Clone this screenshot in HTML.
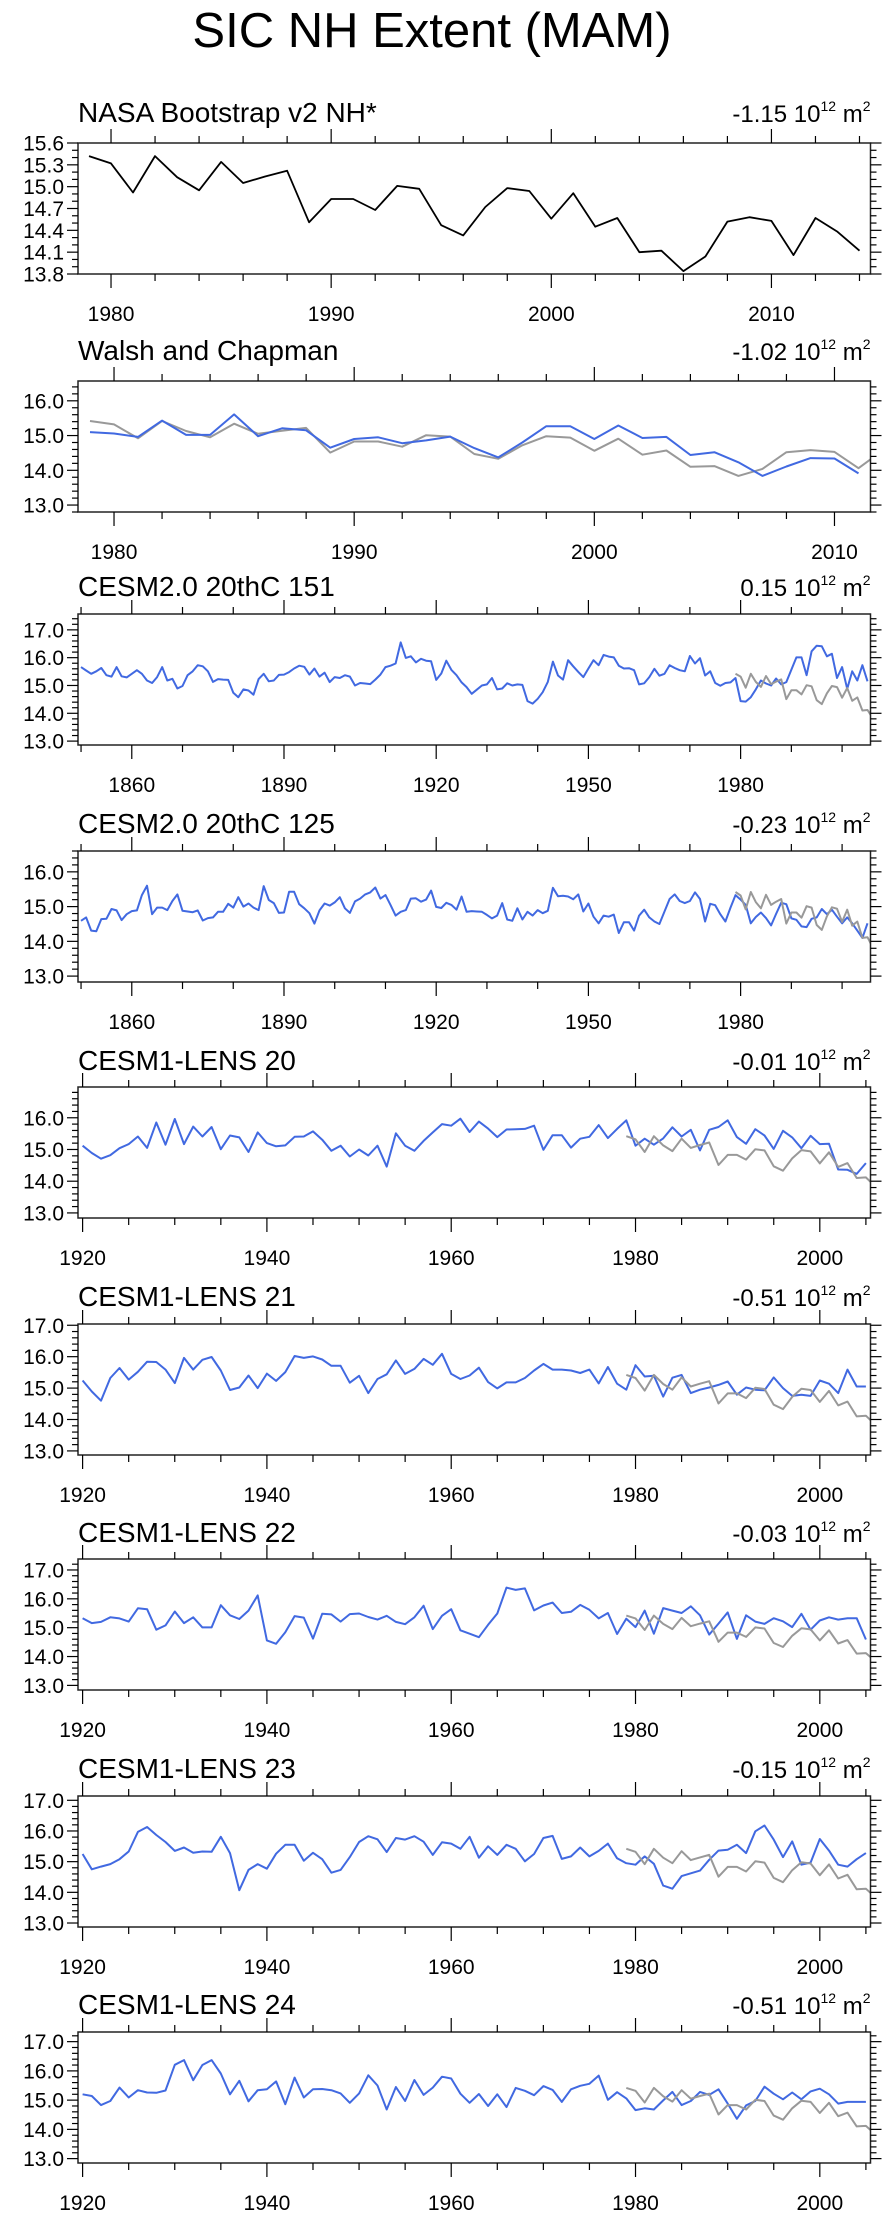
<!DOCTYPE html>
<html><head><meta charset="utf-8">
<style>
html,body{margin:0;padding:0;background:#fff;}
svg{display:block;font-family:"Liberation Sans",Arial,sans-serif;}
</style></head>
<body>
<svg id="fig" width="896" height="2219" viewBox="0 0 896 2219" xmlns="http://www.w3.org/2000/svg">
<rect width="896" height="2219" fill="#fff"/>
<text x="432" y="47" font-size="49" text-anchor="middle" fill="#000">SIC NH Extent (MAM)</text>
</svg>
<script>
// ---- data ----
const nasaStart = 1979;
const nasaValues = [15.42,15.32,14.92,15.42,15.13,14.95,15.34,15.05,15.14,15.22,14.51,14.83,14.83,14.68,15.01,14.97,14.47,14.33,14.72,14.98,14.94,14.56,14.91,14.45,14.57,14.10,14.12,13.84,14.04,14.52,14.58,14.53,14.06,14.57,14.38,14.12];
const walshStart = 1979;
const walshValues = [15.10,15.06,14.96,15.43,15.02,15.02,15.61,14.98,15.21,15.15,14.65,14.90,14.95,14.78,14.86,14.97,14.64,14.37,14.80,15.27,15.27,14.90,15.29,14.93,14.96,14.44,14.52,14.23,13.84,14.11,14.35,14.34,13.91];
const cesm2Start = 1850;
const cesm2m151 = [15.66,15.54,15.42,15.51,15.63,15.37,15.32,15.66,15.33,15.29,15.42,15.55,15.42,15.18,15.09,15.30,15.66,15.18,15.24,14.89,14.98,15.37,15.51,15.73,15.69,15.51,15.13,15.23,15.21,15.20,14.74,14.58,14.86,14.82,14.67,15.23,15.42,15.15,15.18,15.38,15.39,15.48,15.61,15.71,15.67,15.39,15.61,15.32,15.46,15.12,15.30,15.27,15.37,15.32,15.00,15.09,15.07,15.05,15.21,15.39,15.66,15.71,15.79,16.55,15.99,16.05,15.83,15.96,15.89,15.87,15.20,15.43,15.89,15.56,15.37,15.11,14.94,14.70,14.85,15.00,
15.04,15.27,14.86,14.89,15.08,15.00,15.04,15.02,14.44,14.35,14.52,14.76,15.13,15.86,15.36,15.21,15.91,15.69,15.49,15.30,15.61,15.91,15.73,16.10,16.04,16.01,15.71,15.61,15.62,15.55,15.04,15.08,15.30,15.60,15.35,15.42,15.73,15.63,15.55,15.51,16.06,15.79,15.98,15.36,15.51,15.09,14.99,15.09,15.11,15.27,14.44,14.42,14.58,14.86,15.18,15.07,15.00,15.25,15.04,15.12,15.57,16.01,16.01,15.37,16.23,16.43,16.41,16.05,16.14,15.27,15.66,14.88,15.51,15.18,15.73,15.15];
const cesm2m125 = [14.59,14.69,14.31,14.29,14.64,14.65,14.93,14.89,14.61,14.78,14.87,14.89,15.33,15.60,14.78,14.97,14.97,14.90,15.16,15.35,14.88,14.86,14.84,14.89,14.60,14.67,14.69,14.85,14.85,15.08,14.97,15.27,15.00,15.09,14.97,14.90,15.59,15.19,15.10,14.82,14.83,15.43,15.43,15.07,14.95,14.81,14.51,14.89,15.09,15.03,15.12,15.27,14.95,14.82,15.15,15.23,15.35,15.41,15.55,15.23,15.33,15.05,14.74,14.85,14.90,15.23,15.24,15.14,15.20,15.46,14.99,14.96,15.11,15.05,14.91,15.29,14.85,14.87,14.86,14.85,
14.76,14.66,14.74,15.10,14.63,14.59,14.95,14.63,14.85,14.74,14.90,14.81,14.88,15.54,15.30,15.31,15.29,15.21,15.35,14.86,15.09,14.71,14.52,14.74,14.71,14.77,14.24,14.55,14.55,14.31,14.74,14.91,14.69,14.57,14.50,14.86,15.22,15.35,15.16,15.10,15.16,15.41,15.22,14.57,15.08,15.04,14.78,14.57,14.97,15.33,15.20,15.05,14.52,14.70,14.83,14.67,14.46,14.79,15.11,15.07,14.66,14.62,14.43,14.41,14.65,14.69,14.93,14.78,14.91,14.71,14.52,14.69,14.52,14.31,14.10,14.52];
const lensStart = 1920;
const lens20 = [15.12,14.89,14.71,14.82,15.04,15.17,15.41,15.05,15.85,15.15,15.96,15.17,15.72,15.41,15.71,15.01,15.44,15.38,14.92,15.54,15.20,15.10,15.13,15.40,15.41,15.57,15.31,14.96,15.12,14.78,15.00,14.81,15.12,14.46,15.51,15.12,14.96,15.27,15.54,15.80,15.75,15.97,15.55,15.88,15.66,15.39,15.63,15.64,15.65,15.75,14.99,15.45,15.45,15.06,15.34,15.40,15.77,15.36,15.65,15.92,15.12,15.34,15.15,15.35,15.70,15.41,15.62,14.97,15.62,15.71,15.92,15.39,15.18,15.64,15.44,15.02,15.59,15.38,15.04,15.43,15.17,15.18,14.37,14.36,14.23,14.57];
const lens21 = [15.24,14.89,14.60,15.32,15.64,15.27,15.52,15.84,15.83,15.59,15.16,15.96,15.59,15.90,15.99,15.56,14.94,15.02,15.40,15.00,15.46,15.23,15.51,16.02,15.96,16.01,15.91,15.71,15.71,15.17,15.39,14.84,15.29,15.44,15.88,15.45,15.61,15.93,15.74,16.09,15.45,15.29,15.40,15.65,15.19,14.99,15.18,15.18,15.32,15.56,15.77,15.59,15.59,15.56,15.48,15.59,15.15,15.67,15.14,14.95,15.73,15.37,15.39,14.73,15.33,15.42,14.84,14.95,15.02,15.10,15.21,14.79,15.02,14.95,14.93,15.34,15.00,14.75,14.79,14.75,15.24,15.14,14.84,15.59,15.05,15.05];
const lens22 = [15.33,15.16,15.20,15.36,15.32,15.21,15.67,15.64,14.93,15.08,15.56,15.16,15.36,15.01,15.01,15.78,15.43,15.30,15.59,16.12,14.56,14.44,14.84,15.40,15.35,14.62,15.48,15.46,15.21,15.47,15.49,15.37,15.28,15.41,15.20,15.12,15.36,15.76,14.95,15.41,15.64,14.91,14.79,14.67,15.10,15.49,16.39,16.31,16.36,15.60,15.77,15.87,15.51,15.55,15.79,15.62,15.32,15.51,14.78,15.31,15.02,15.59,14.79,15.68,15.59,15.51,15.74,15.43,14.76,15.14,15.53,14.61,15.43,15.21,15.13,15.33,15.22,15.02,15.48,14.93,15.25,15.36,15.28,15.33,15.33,14.59];
const lens23 = [15.25,14.75,14.84,14.92,15.08,15.33,15.97,16.13,15.87,15.64,15.35,15.46,15.29,15.33,15.32,15.81,15.28,14.07,14.73,14.92,14.77,15.26,15.55,15.55,15.03,15.29,15.08,14.64,14.73,15.15,15.64,15.83,15.73,15.31,15.77,15.72,15.83,15.65,15.22,15.63,15.59,15.42,15.81,15.13,15.50,15.22,15.55,15.42,15.01,15.25,15.77,15.84,15.09,15.17,15.46,15.17,15.35,15.59,15.11,14.95,14.90,15.17,14.93,14.22,14.12,14.53,14.62,14.71,15.06,15.36,15.39,15.55,15.28,15.99,16.18,15.72,15.15,15.66,14.90,14.97,15.74,15.36,14.90,14.84,15.08,15.28];
const lens24 = [15.20,15.14,14.83,14.97,15.43,15.09,15.34,15.26,15.25,15.33,16.21,16.37,15.68,16.20,16.37,15.91,15.20,15.66,14.96,15.34,15.37,15.64,14.86,15.77,15.09,15.37,15.38,15.34,15.23,14.91,15.23,15.85,15.50,14.68,15.45,14.97,15.69,15.18,15.43,15.80,15.74,15.22,14.91,15.21,14.80,15.20,14.76,15.42,15.32,15.17,15.48,15.35,14.94,15.37,15.49,15.56,15.84,15.01,15.27,15.06,14.66,14.72,14.68,14.99,15.28,14.83,14.97,15.28,15.18,15.37,14.88,14.36,14.82,14.97,15.46,15.22,15.03,15.26,15.03,15.30,15.39,15.20,14.88,14.94,14.94,14.94];
const panelTitles = ["NASA Bootstrap v2 NH*","Walsh and Chapman","CESM2.0 20thC 151","CESM2.0 20thC 125","CESM1-LENS 20","CESM1-LENS 21","CESM1-LENS 22","CESM1-LENS 23","CESM1-LENS 24"];
const trendValues = ["-1.15","-1.02","0.15","-0.23","-0.01","-0.51","-0.03","-0.15","-0.51"];

// ---- layout ----
const NS = "http://www.w3.org/2000/svg";
const svg = document.getElementById('fig');
const L = 78, R = 870.5, H = 131;
const BLUE = "#4169e1", GRAY = "#999999";
const panels = [
 {top:143,x0:1978.5,x1:2014.5,y0:13.8,y1:15.6,ystep:0.3,yminor:0.1,ylab0:13.8,xmaj:10,xmin:2,tt:21,
  series:[{d:nasaValues,s:nasaStart,c:"#000"}]},
 {top:381,x0:1978.5,x1:2011.5,y0:12.8,y1:16.57,ystep:1,yminor:0.2,ylab0:13,xmaj:10,xmin:2,tt:21,
  series:[{d:nasaValues,s:nasaStart,c:GRAY},{d:walshValues,s:walshStart,c:BLUE}]},
 {top:614,x0:1849.4,x1:2005.6,y0:12.86,y1:17.57,ystep:1,yminor:0.2,ylab0:13,xmaj:30,xmin:10,tt:18,
  series:[{d:cesm2m151,s:cesm2Start,c:BLUE},{d:nasaValues,s:nasaStart,c:GRAY}]},
 {top:851,x0:1849.4,x1:2005.6,y0:12.83,y1:16.6,ystep:1,yminor:0.2,ylab0:13,xmaj:30,xmin:10,tt:18,
  series:[{d:cesm2m125,s:cesm2Start,c:BLUE},{d:nasaValues,s:nasaStart,c:GRAY}]},
 {top:1087,x0:1919.5,x1:2005.5,y0:12.84,y1:16.97,ystep:1,yminor:0.2,ylab0:13,xmaj:20,xmin:5,tt:17,
  series:[{d:lens20,s:lensStart,c:BLUE},{d:nasaValues,s:nasaStart,c:GRAY}]},
 {top:1324,x0:1919.5,x1:2005.5,y0:12.87,y1:17.04,ystep:1,yminor:0.2,ylab0:13,xmaj:20,xmin:5,tt:18,
  series:[{d:lens21,s:lensStart,c:BLUE},{d:nasaValues,s:nasaStart,c:GRAY}]},
 {top:1559,x0:1919.5,x1:2005.5,y0:12.84,y1:17.38,ystep:1,yminor:0.2,ylab0:13,xmaj:20,xmin:5,tt:17,
  series:[{d:lens22,s:lensStart,c:BLUE},{d:nasaValues,s:nasaStart,c:GRAY}]},
 {top:1796,x0:1919.5,x1:2005.5,y0:12.87,y1:17.14,ystep:1,yminor:0.2,ylab0:13,xmaj:20,xmin:5,tt:18,
  series:[{d:lens23,s:lensStart,c:BLUE},{d:nasaValues,s:nasaStart,c:GRAY}]},
 {top:2032,x0:1919.5,x1:2005.5,y0:12.85,y1:17.33,ystep:1,yminor:0.2,ylab0:13,xmaj:20,xmin:5,tt:18,
  series:[{d:lens24,s:lensStart,c:BLUE},{d:nasaValues,s:nasaStart,c:GRAY}]}
];

function mk(tag, attrs, parent){
  const e = document.createElementNS(NS, tag);
  for (const k in attrs) e.setAttribute(k, attrs[k]);
  (parent||svg).appendChild(e);
  return e;
}
function line(g,x1,y1,x2,y2,w){
  const l = mk('line',{x1:x1,y1:y1,x2:x2,y2:y2,stroke:"#000","stroke-width":w||1.2},g);
  
  
  return l;
}

panels.forEach((p, pi) => {
  const g = mk('g',{});
  
  
  const top = p.top, bot = p.top + H;
  const xs = x => L + (x - p.x0) / (p.x1 - p.x0) * (R - L);
  const ys = v => top + (p.y1 - v) / (p.y1 - p.y0) * H;

  // title
  const t = mk('text',{x:L,y:top - p.tt,"font-size":28,fill:"#000"},g);
  t.textContent = panelTitles[pi];
  
  
  // trend label
  const tr = mk('text',{x:R,y:top - p.tt,"font-size":24,"text-anchor":"end",fill:"#000"},g);
  
  
  tr.innerHTML = trendValues[pi] + ' 10<tspan font-size="14" dy="-11">12</tspan><tspan dy="11"> m</tspan><tspan font-size="14" dy="-11">2</tspan>';

  // clip
  const cp = mk('clipPath',{id:'clip'+pi},g);
  mk('rect',{x:L,y:top,width:R-L,height:H},cp);

  // series
  p.series.forEach(s => {
    const pts = s.d.map((v,i) => xs(s.s + i).toFixed(1) + ',' + ys(v).toFixed(1)).join(' ');
    const pl = mk('polyline',{points:pts,fill:"none",stroke:s.c,"stroke-width":s.c==="#000"?1.8:2,"stroke-linejoin":"round","clip-path":"url(#clip"+pi+")"},g);
    
    
  });

  // frame
  const fr = mk('rect',{x:L,y:top,width:R-L,height:H,fill:"none",stroke:"#222","stroke-width":1.5},g);
  
  

  // x ticks
  const first = Math.ceil(p.x0 / p.xmin) * p.xmin;
  for (let yr = first; yr <= p.x1; yr += p.xmin) {
    const x = xs(yr);
    const major = (yr % p.xmaj === 0);
    const len = major ? 14 : 7;
    line(g, x, top, x, top - len);
    line(g, x, bot, x, bot + len);
    if (major) {
      const lb = mk('text',{x:x,y:bot + 47,"font-size":21,"text-anchor":"middle",fill:"#000"},g);
      lb.textContent = String(yr);
      
      
    }
  }
  // y ticks
  const nMinor = Math.floor((p.y1 - p.y0) / p.yminor) + 2;
  const base = Math.ceil((p.y0 - 1e-6) / p.yminor) * p.yminor;
  for (let k = 0; k < nMinor; k++) {
    const v = +(base + k * p.yminor).toFixed(3);
    if (v > p.y1 + 1e-6) break;
    const rel = (v - p.ylab0) / p.ystep;
    const major = Math.abs(rel - Math.round(rel)) < 1e-4 && v >= p.ylab0 - 1e-6;
    const y = ys(v);
    const len = major ? 11 : 6;
    line(g, L, y, L - len, y);
    line(g, R, y, R + len, y);
    if (major) {
      const lb = mk('text',{x:L - 14,y:y + 7.5,"font-size":21,"text-anchor":"end",fill:"#000"},g);
      lb.textContent = v.toFixed(1);
      
      
    }
  }
});
</script>
</body></html>
